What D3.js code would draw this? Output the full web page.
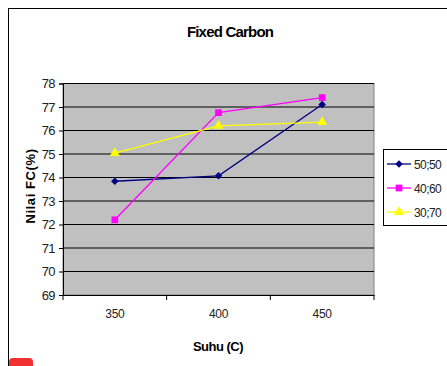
<!DOCTYPE html>
<html>
<head>
<meta charset="utf-8">
<script src="https://cdn.jsdelivr.net/npm/d3@7"></script>
<style>
  body { margin: 0; background: #fff; }
  svg { font-family: "Liberation Sans", Arial, sans-serif; }
</style>
</head>
<body>
<svg width="447" height="366"></svg>
<script>
var categories = ["350", "400", "450"];
var seriesNames = ["50;50", "40;60", "30;70"];
var seriesColors = ["#000080", "#ff00ff", "#ffff00"];
var s5050 = [73.84, 74.07, 77.11];
var s4060 = [72.2, 76.76, 77.4];
var s3070 = [75.04, 76.2, 76.36];
var yTicks = [69, 70, 71, 72, 73, 74, 75, 76, 77, 78];

var series = [s5050, s4060, s3070].map(function(v, i) {
    return { name: seriesNames[i], color: seriesColors[i], values: v };
});

var svg = d3.select("svg");

// outer chart frame
svg.append("rect")
    .attr("x", 8.5).attr("y", 8.5)
    .attr("width", 450).attr("height", 380)
    .attr("fill", "#fff").attr("stroke", "#000").attr("stroke-width", 1);

svg.append("rect")
    .attr("x", 9).attr("y", 358).attr("width", 24).attr("height", 14)
    .attr("rx", 4).attr("fill", "#f03030");

var plotLeft = 63, plotRight = 374, plotTop = 83.5, plotBottom = 295;

var x = d3.scaleBand().domain(categories).range([plotLeft, plotRight]);
var y = d3.scaleLinear().domain([69, 78]).range([plotBottom, plotTop]);

svg.append("rect")
    .attr("x", plotLeft).attr("y", plotTop)
    .attr("width", plotRight - plotLeft).attr("height", plotBottom - plotTop)
    .attr("fill", "#c0c0c0")
    .attr("stroke", "#808080");

svg.append("g").selectAll("line")
    .data(yTicks.slice(1))
    .join("line")
    .attr("x1", plotLeft).attr("x2", plotRight)
    .attr("y1", function(d) { return y(d); })
    .attr("y2", function(d) { return y(d); })
    .attr("stroke", "#000").attr("stroke-width", 1.2);

var yAxis = svg.append("g")
    .attr("transform", "translate(" + plotLeft + ",0)")
    .call(d3.axisLeft(y).tickValues(yTicks).tickSize(4).tickPadding(4));
yAxis.select(".domain").attr("stroke", "#000");
yAxis.selectAll("text").attr("font-size", 13).attr("letter-spacing", -0.6).attr("fill", "#222");

var xAxis = svg.append("g")
    .attr("transform", "translate(0," + plotBottom + ")")
    .call(d3.axisBottom(x).tickSize(0).tickPadding(14));
xAxis.select(".domain").attr("stroke", "#000");
xAxis.selectAll("text").attr("font-size", 12).attr("letter-spacing", -0.3).attr("fill", "#222");
xAxis.selectAll(".sep")
    .data([0, 1, 2, 3])
    .join("line")
    .attr("class", "sep")
    .attr("x1", function(d) { return plotLeft + d * x.step(); })
    .attr("x2", function(d) { return plotLeft + d * x.step(); })
    .attr("y1", 0).attr("y2", 5)
    .attr("stroke", "#000");

var line = d3.line()
    .x(function(d, i) { return x(categories[i]) + x.bandwidth() / 2; })
    .y(function(d) { return y(d); });

var shapes = [d3.symbolDiamond2, d3.symbolSquare, d3.symbolTriangle];
var sizes = [36, 45, 45];

series.forEach(function(s, k) {
    svg.append("path")
        .datum(s.values)
        .attr("d", line)
        .attr("fill", "none")
        .attr("stroke", s.color)
        .attr("stroke-width", 1.3);
    svg.append("g").selectAll("path")
        .data(s.values)
        .join("path")
        .attr("transform", function(d, i) {
            return "translate(" + (x(categories[i]) + x.bandwidth() / 2) + "," + y(d) + ")";
        })
        .attr("d", d3.symbol().type(shapes[k]).size(sizes[k]))
        .attr("fill", s.color);
});

// title and axis labels
svg.append("text")
    .attr("x", 230).attr("y", 37)
    .attr("text-anchor", "middle")
    .attr("font-size", 15).attr("font-weight", "bold")
    .attr("letter-spacing", -0.8)
    .text("Fixed Carbon");

svg.append("text")
    .attr("x", 218).attr("y", 351)
    .attr("text-anchor", "middle")
    .attr("font-size", 13).attr("font-weight", "bold")
    .attr("letter-spacing", -0.5)
    .text("Suhu (C)");

svg.append("text")
    .attr("transform", "translate(35,186) rotate(-90)")
    .attr("text-anchor", "middle")
    .attr("font-size", 13).attr("font-weight", "bold")
    .attr("letter-spacing", 0.6)
    .text("Nilai FC(%)");

// legend
var legend = svg.append("g");
legend.append("rect")
    .attr("x", 383.5).attr("y", 149.5)
    .attr("width", 70).attr("height", 76)
    .attr("fill", "#fff").attr("stroke", "#000");

var items = legend.selectAll("g.item")
    .data(series)
    .join("g")
    .attr("class", "item")
    .attr("transform", function(d, i) { return "translate(0," + (164 + i * 24) + ")"; });
items.append("line")
    .attr("x1", 387).attr("x2", 411)
    .attr("stroke", function(d) { return d.color; })
    .attr("stroke-width", 1.3);
items.append("path")
    .attr("transform", "translate(399,0)")
    .attr("d", function(d, i) { return d3.symbol().type(shapes[i]).size(sizes[i])(); })
    .attr("fill", function(d) { return d.color; });
items.append("text")
    .attr("x", 414).attr("y", 4.5)
    .attr("font-size", 12)
    .attr("letter-spacing", -0.6)
    .attr("fill", "#222")
    .text(function(d) { return d.name; });
</script>
</body>
</html>
